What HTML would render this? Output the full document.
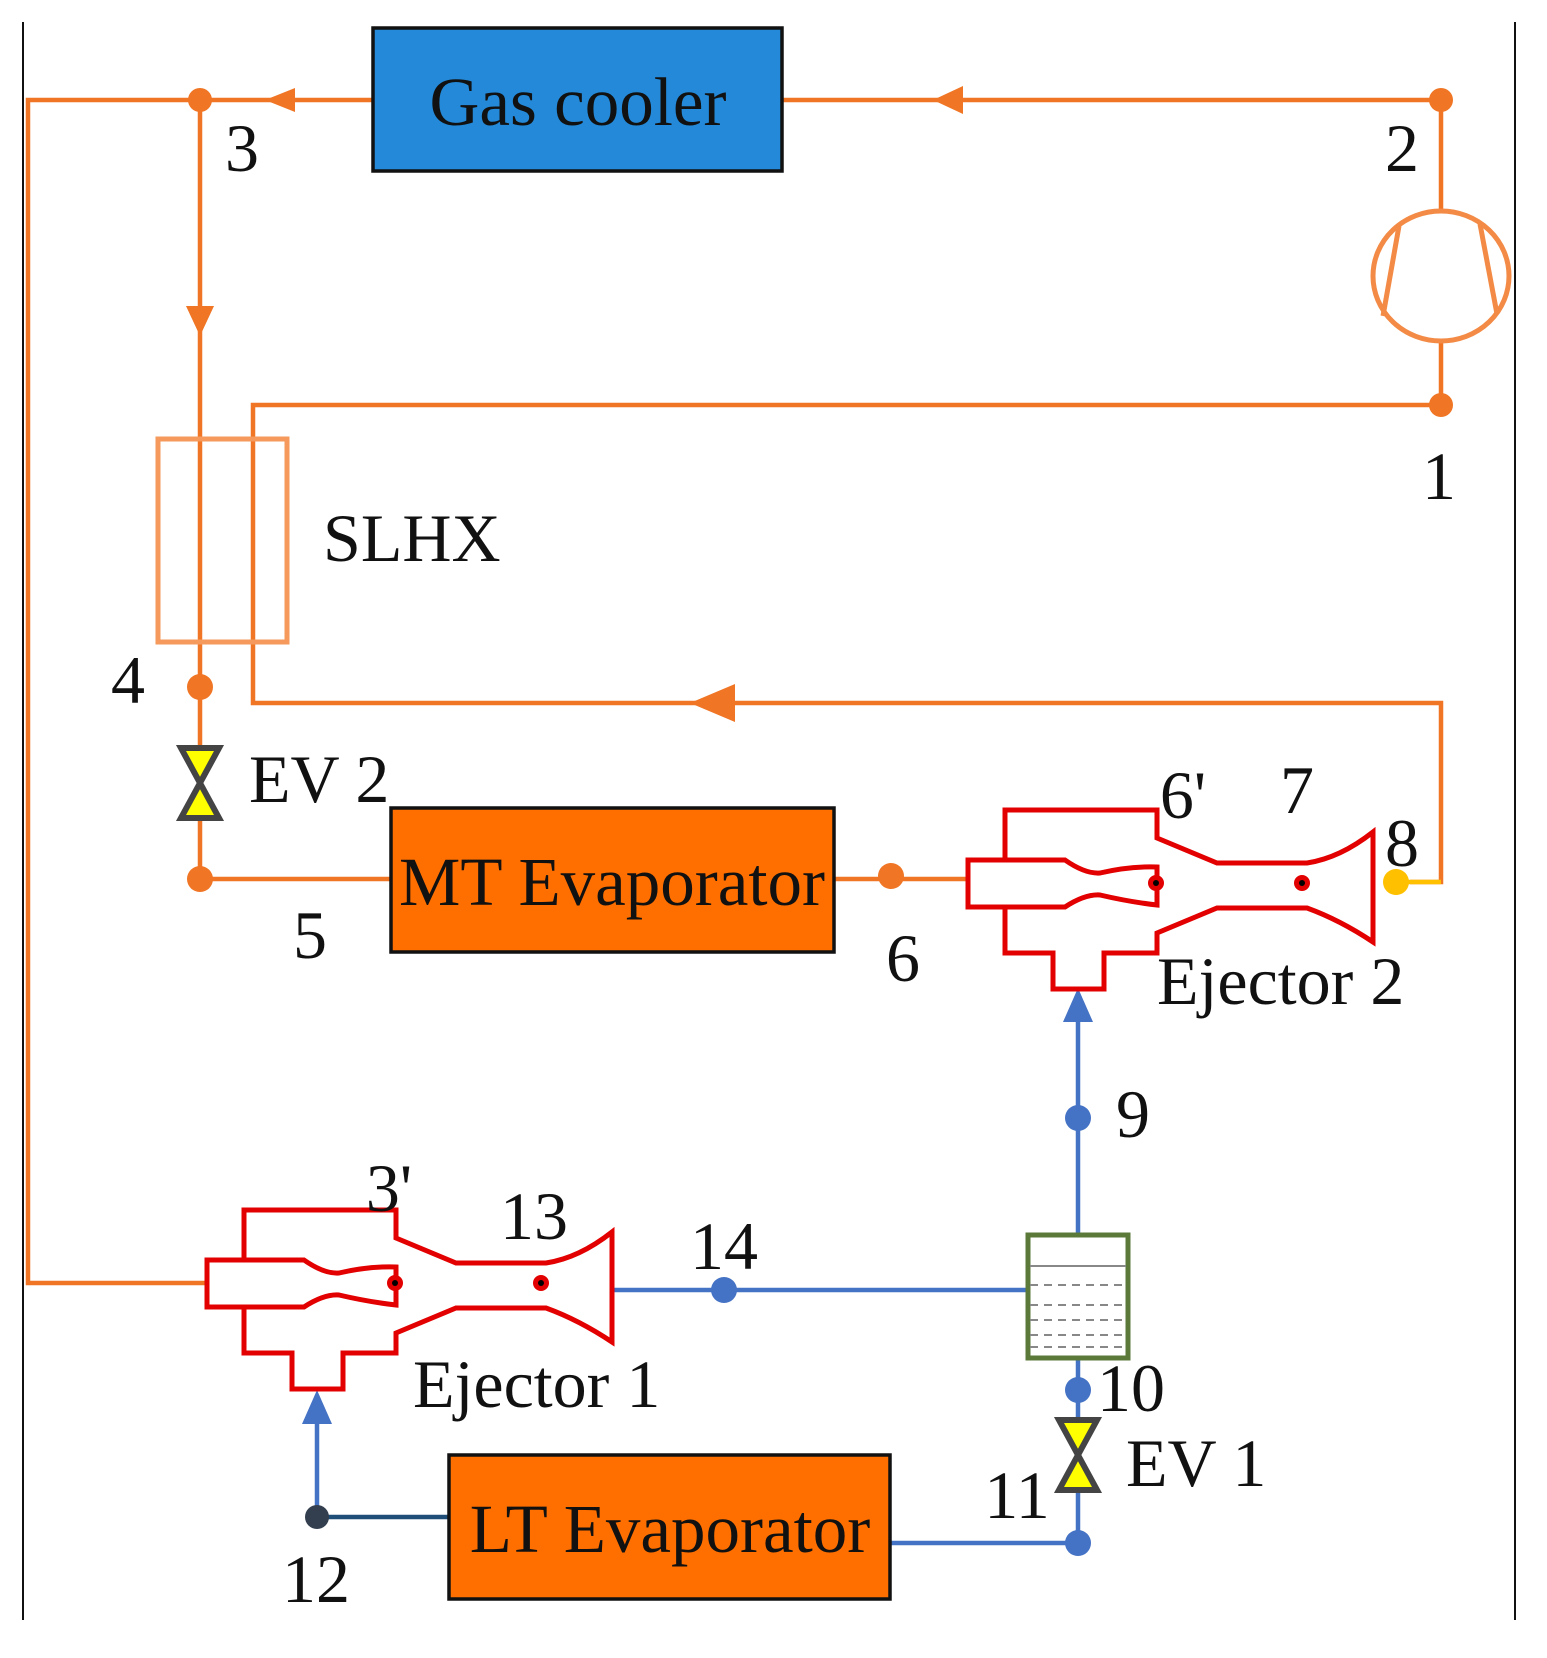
<!DOCTYPE html>
<html><head><meta charset="utf-8"><style>
html,body{margin:0;padding:0;background:#fff;}
svg{display:block;}
text{font-family:"Liberation Serif",serif;fill:#111;}
</style></head><body>
<svg width="1547" height="1658" viewBox="0 0 1547 1658" xmlns="http://www.w3.org/2000/svg">
<defs>
<g id="ej" fill="none" stroke="#e30000" stroke-width="5" stroke-linejoin="miter">
  <path d="M1005,860 V810 H1157 V838 L1217,863 H1307 Q1340,858 1373,832 V942 Q1340,920 1307,908 H1217 L1157,933 V953 H1104 V989 H1053 V953 H1005 V907"/>
  <path d="M968,860 H1065 Q1085,874 1100,873 Q1130,866 1157,867 V905 Q1130,902 1100,895 Q1085,894 1065,907 H968 Z"/>
</g>
</defs>
<line x1="23" y1="22" x2="23" y2="1620" stroke="#111" stroke-width="2"/>
<line x1="1515" y1="22" x2="1515" y2="1620" stroke="#111" stroke-width="2"/>

<g stroke="#f07524" stroke-width="4.5" fill="none">
  <polyline points="373,100 28,100 28,1283 207,1283"/>
  <line x1="782" y1="100" x2="1441" y2="100"/>
  <line x1="200" y1="100" x2="200" y2="879"/>
  <line x1="1441" y1="100" x2="1441" y2="210"/>
  <line x1="1441" y1="342" x2="1441" y2="405"/>
  <polyline points="1441,405 253,405 253,703 1441,703 1441,882 1410,882"/>
  <line x1="200" y1="879" x2="391" y2="879"/>
  <line x1="834" y1="879" x2="968" y2="879"/>
</g>
<line x1="1396" y1="882" x2="1441" y2="882" stroke="#ffc000" stroke-width="4.5"/>
<ellipse cx="1441" cy="276" rx="68" ry="65" fill="none" stroke="#f38a45" stroke-width="5"/>
<line x1="1399" y1="226" x2="1383" y2="316" stroke="#f38a45" stroke-width="5"/>
<line x1="1480" y1="224" x2="1497" y2="314" stroke="#f38a45" stroke-width="5"/>
<rect x="158" y="439" width="129" height="203" fill="none" stroke="#f59a5c" stroke-width="5"/>
<g fill="#f07524">
  <polygon points="265,100 295,88 295,112"/>
  <polygon points="933,100 963,86 963,114"/>
  <polygon points="200,336 186,306 214,306"/>
  <polygon points="690,703 735,684 735,722"/>
  <circle cx="200" cy="100" r="12"/><circle cx="1441" cy="100" r="12"/>
  <circle cx="1441" cy="405" r="12"/><circle cx="200" cy="687" r="13"/>
  <circle cx="200" cy="879" r="13"/><circle cx="891" cy="876" r="13"/>
</g>
<circle cx="1396" cy="882" r="13" fill="#ffc000"/>
<g stroke="#4472c4" stroke-width="4.5" fill="none">
  <line x1="1078" y1="1235" x2="1078" y2="1000"/>
  <polyline points="612,1290 1028,1290"/>
  <line x1="1078" y1="1358" x2="1078" y2="1543"/>
  <polyline points="1078,1543 890,1543"/>
  <line x1="317" y1="1517" x2="317" y2="1410"/>
</g>
<line x1="449" y1="1517" x2="317" y2="1517" stroke="#1f4e79" stroke-width="4.5"/>
<g fill="#4472c4">
  <polygon points="1078,988 1063,1022 1093,1022"/>
  <polygon points="317,1390 302,1424 332,1424"/>
  <circle cx="1078" cy="1118" r="13"/><circle cx="724" cy="1290" r="13"/>
  <circle cx="1078" cy="1390" r="13"/><circle cx="1078" cy="1543" r="13"/>
</g>
<circle cx="317" cy="1517" r="12" fill="#333f4f"/>
<g stroke="#444" stroke-width="6" fill="#ffff00" stroke-linejoin="miter">
  <polygon points="181,748 219,748 200,783 181,818 219,818 200,783"/>
  <polygon points="1059,1420 1097,1420 1078,1455 1059,1490 1097,1490 1078,1455"/>
</g>
<rect x="1028" y="1235" width="100" height="123" fill="#fff" stroke="#5b7a3a" stroke-width="5"/>
<g stroke="#888" stroke-width="2">
  <line x1="1030" y1="1266" x2="1126" y2="1266"/>
  <g stroke-dasharray="8,6">
  <line x1="1030" y1="1285" x2="1126" y2="1285"/>
  <line x1="1030" y1="1305" x2="1126" y2="1305"/>
  <line x1="1030" y1="1320" x2="1126" y2="1320"/>
  <line x1="1030" y1="1335" x2="1126" y2="1335"/>
  <line x1="1030" y1="1347" x2="1126" y2="1347"/>
  </g>
</g>
<use href="#ej"/>
<use href="#ej" transform="translate(-761,400)"/>
<g fill="#e30000">
  <circle cx="1156" cy="883" r="8"/><circle cx="1302" cy="883" r="8"/>
  <circle cx="395" cy="1283" r="8"/><circle cx="541" cy="1283" r="8"/>
</g>
<g fill="#000">
  <circle cx="1156" cy="883" r="3"/><circle cx="1302" cy="883" r="3"/>
  <circle cx="395" cy="1283" r="3"/><circle cx="541" cy="1283" r="3"/>
</g>
<rect x="373" y="28" width="409" height="143" fill="#2389d8" stroke="#111" stroke-width="3.5"/>
<rect x="391" y="808" width="443" height="144" fill="#ff6f00" stroke="#111" stroke-width="3.5"/>
<rect x="449" y="1455" width="441" height="144" fill="#ff6f00" stroke="#111" stroke-width="3.5"/>
<g font-size="69" text-anchor="middle">
  <text x="578" y="125">Gas cooler</text>
  <text x="612" y="905">MT Evaporator</text>
  <text x="670" y="1552">LT Evaporator</text>
</g>
<g font-size="68">
  <text x="242" y="171" text-anchor="middle">3</text>
  <text x="1402" y="171" text-anchor="middle">2</text>
  <text x="1439" y="499" text-anchor="middle">1</text>
  <text x="323" y="561">SLHX</text>
  <text x="128" y="703" text-anchor="middle">4</text>
  <text x="249" y="802">EV 2</text>
  <text x="310" y="958" text-anchor="middle">5</text>
  <text x="903" y="981" text-anchor="middle">6</text>
  <text x="1183" y="818" text-anchor="middle">6'</text>
  <text x="1297" y="813" text-anchor="middle">7</text>
  <text x="1402" y="866" text-anchor="middle">8</text>
  <text x="1157" y="1004">Ejector 2</text>
  <text x="1133" y="1137" text-anchor="middle">9</text>
  <text x="389" y="1211" text-anchor="middle">3'</text>
  <text x="534" y="1239" text-anchor="middle">13</text>
  <text x="724" y="1269" text-anchor="middle">14</text>
  <text x="413" y="1407">Ejector 1</text>
  <text x="1131" y="1411" text-anchor="middle">10</text>
  <text x="1126" y="1486">EV 1</text>
  <text x="1017" y="1518" text-anchor="middle">11</text>
  <text x="316" y="1602" text-anchor="middle">12</text>
</g>
</svg>
</body></html>
